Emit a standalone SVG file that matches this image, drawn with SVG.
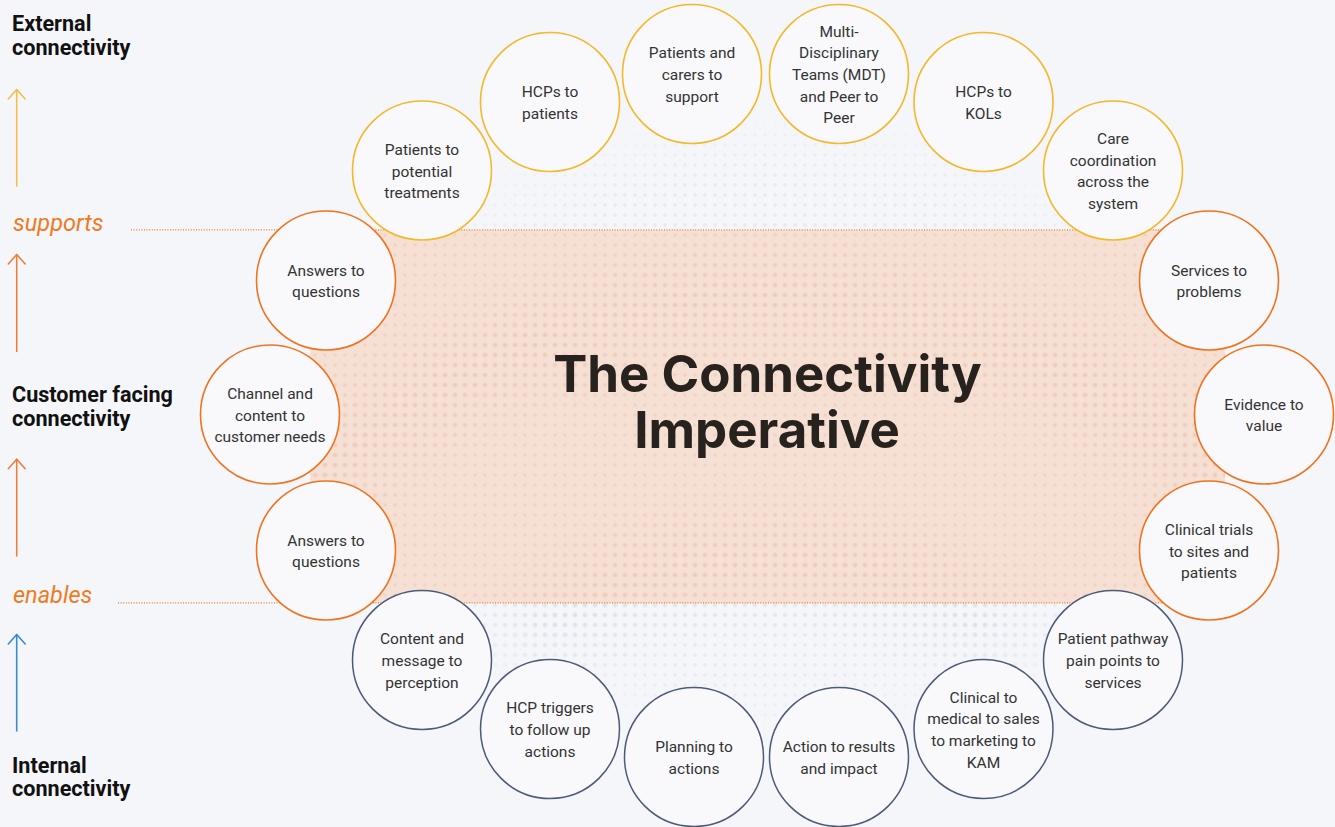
<svg xmlns="http://www.w3.org/2000/svg" width="1335" height="827" viewBox="0 0 1335 827">
<style>
.ext{fill:#F9F9FB;stroke:#F5B829;stroke-width:1.6}
.cus{fill:#F9F9FB;stroke:#F0731F;stroke-width:1.6}
.int{fill:#F9F9FB;stroke:#4C5B7A;stroke-width:1.5}
.lbl{font-family:Roboto,"Liberation Sans",sans-serif;font-size:15.5px;fill:#333333;text-anchor:middle}
.head{font-family:Roboto,"Liberation Sans",sans-serif;font-size:21.6px;font-weight:700;fill:#111111}
.verb{font-family:Roboto,"Liberation Sans",sans-serif;font-size:23.5px;font-style:italic;fill:#F07A22}
.title{font-family:Inter,"Liberation Sans",sans-serif;font-size:51px;font-weight:700;fill:#28221F;text-anchor:middle}
.dotline{stroke:#F07A22;stroke-width:1.2;stroke-dasharray:1 1.6;fill:none}
.arr{fill:none;stroke-width:1.6;stroke-linecap:round;stroke-linejoin:round}
</style>
<defs>
<pattern id="pS" width="10" height="10" patternUnits="userSpaceOnUse"><circle cx="5" cy="5" r="1.8" fill="#7884A8" fill-opacity="0.11"/></pattern>
<pattern id="pL" width="10" height="10" patternUnits="userSpaceOnUse"><circle cx="5" cy="5" r="2.8" fill="#7884A8" fill-opacity="0.09"/></pattern>
<pattern id="bS" width="10" height="10" patternUnits="userSpaceOnUse"><circle cx="5" cy="5" r="1.8" fill="#C8907A" fill-opacity="0.14"/></pattern>
<pattern id="bL" width="10" height="10" patternUnits="userSpaceOnUse"><circle cx="5" cy="5" r="2.8" fill="#C8907A" fill-opacity="0.11"/></pattern>
<radialGradient id="gFade" gradientUnits="userSpaceOnUse" cx="767" cy="425" r="470" gradientTransform="translate(767 425) scale(1 0.68) translate(-767 -425)">
<stop offset="0" stop-color="#fff"/><stop offset="0.78" stop-color="#fff"/><stop offset="1" stop-color="#000"/>
</radialGradient>
<radialGradient id="gRing" gradientUnits="userSpaceOnUse" cx="767" cy="950" r="130" spreadMethod="reflect">
<stop offset="0" stop-color="#000"/><stop offset="0.4" stop-color="#000"/><stop offset="1" stop-color="#fff"/>
</radialGradient>
<mask id="mFade"><rect width="1335" height="827" fill="url(#gFade)"/></mask>
<mask id="mRing"><rect width="1335" height="827" fill="url(#gRing)"/></mask>
<clipPath id="cBand"><rect x="310" y="230" width="915" height="373"/></clipPath>
</defs>

<rect width="1335" height="827" fill="#F5F6FA"/>

<g id="halftone">
<g mask="url(#mFade)">
<rect width="1335" height="827" fill="url(#pS)"/>
<rect width="1335" height="827" fill="url(#pL)" mask="url(#mRing)"/>
</g>
<rect id="band" x="310" y="230" width="915" height="373" fill="#F6DFD3"/>
<g clip-path="url(#cBand)">
<rect width="1335" height="827" fill="url(#bS)"/>
<rect width="1335" height="827" fill="url(#bL)" mask="url(#mRing)"/>
</g>
</g>

<g id="connectors">
<line class="dotline" x1="131" y1="229.8" x2="1225" y2="229.8"/>
<line class="dotline" x1="118" y1="602.8" x2="1225" y2="602.8"/>
<g class="arr" stroke="#F4BD4C"><line x1="16.7" y1="89.5" x2="16.7" y2="186"/><polyline points="8.3,99 16.7,89.5 25.2,99"/></g>
<g class="arr" stroke="#EC7E3E"><line x1="16.7" y1="254.5" x2="16.7" y2="351.5"/><polyline points="8.3,264 16.7,254.5 25.2,264"/></g>
<g class="arr" stroke="#EC7E3E"><line x1="16.7" y1="459.2" x2="16.7" y2="556"/><polyline points="8.3,468.7 16.7,459.2 25.2,468.7"/></g>
<g class="arr" stroke="#3A8CCB"><line x1="16.7" y1="634.5" x2="16.7" y2="731"/><polyline points="8.3,644 16.7,634.5 25.2,644"/></g>
</g>

<g id="side-labels">
<text class="head" x="12" y="31">External</text>
<text class="head" x="12" y="54.5">connectivity</text>
<text class="verb" x="13" y="230.5">supports</text>
<text class="head" x="12" y="402.3">Customer facing</text>
<text class="head" x="12" y="425.5">connectivity</text>
<text class="verb" x="13" y="603">enables</text>
<text class="head" x="12" y="772.7">Internal</text>
<text class="head" x="12" y="796">connectivity</text>
</g>

<g id="title">
<text class="title" x="767.5" y="391.7">The Connectivity</text>
<text class="title" x="767" y="448.3">Imperative</text>
</g>

<g id="n-ext-1"><circle class="ext" cx="422" cy="170.5" r="69.5"/><text class="lbl"><tspan x="422" y="155">Patients to</tspan><tspan x="422" y="176.7">potential</tspan><tspan x="422" y="198.4">treatments</tspan></text></g>
<g id="n-ext-2"><circle class="ext" cx="550" cy="102" r="69.5"/><text class="lbl"><tspan x="550" y="97.2">HCPs to</tspan><tspan x="550" y="118.9">patients</tspan></text></g>
<g id="n-ext-3"><circle class="ext" cx="692" cy="74" r="69.5"/><text class="lbl"><tspan x="692" y="58.3">Patients and</tspan><tspan x="692" y="80">carers to</tspan><tspan x="692" y="101.7">support</tspan></text></g>
<g id="n-ext-4"><circle class="ext" cx="839" cy="74" r="69.5"/><text class="lbl"><tspan x="839" y="36.6">Multi-</tspan><tspan x="839" y="58.3">Disciplinary</tspan><tspan x="839" y="80">Teams (MDT)</tspan><tspan x="839" y="101.7">and Peer to</tspan><tspan x="839" y="123.4">Peer</tspan></text></g>
<g id="n-ext-5"><circle class="ext" cx="983.5" cy="102" r="69.5"/><text class="lbl"><tspan x="983.5" y="97.2">HCPs to</tspan><tspan x="983.5" y="118.9">KOLs</tspan></text></g>
<g id="n-ext-6"><circle class="ext" cx="1113" cy="170.5" r="69.5"/><text class="lbl"><tspan x="1113" y="144">Care</tspan><tspan x="1113" y="165.7">coordination</tspan><tspan x="1113" y="187.4">across the</tspan><tspan x="1113" y="209.1">system</tspan></text></g>

<g id="n-cus-1"><circle class="cus" cx="1209" cy="280.5" r="69.5"/><text class="lbl"><tspan x="1209" y="275.7">Services to</tspan><tspan x="1209" y="297.4">problems</tspan></text></g>
<g id="n-cus-2"><circle class="cus" cx="1264" cy="414.5" r="69.5"/><text class="lbl"><tspan x="1264" y="409.7">Evidence to</tspan><tspan x="1264" y="431.4">value</tspan></text></g>
<g id="n-cus-3"><circle class="cus" cx="1209" cy="550.5" r="69.5"/><text class="lbl"><tspan x="1209" y="534.8">Clinical trials</tspan><tspan x="1209" y="556.5">to sites and</tspan><tspan x="1209" y="578.2">patients</tspan></text></g>
<g id="n-cus-4"><circle class="cus" cx="326" cy="280.5" r="69.5"/><text class="lbl"><tspan x="326" y="275.7">Answers to</tspan><tspan x="326" y="297.4">questions</tspan></text></g>
<g id="n-cus-5"><circle class="cus" cx="270" cy="414.5" r="69.5"/><text class="lbl"><tspan x="270" y="398.8">Channel and</tspan><tspan x="270" y="420.5">content to</tspan><tspan x="270" y="442.2">customer needs</tspan></text></g>
<g id="n-cus-6"><circle class="cus" cx="326" cy="550.5" r="69.5"/><text class="lbl"><tspan x="326" y="545.7">Answers to</tspan><tspan x="326" y="567.4">questions</tspan></text></g>

<g id="n-int-1"><circle class="int" cx="422" cy="660" r="69.5"/><text class="lbl"><tspan x="422" y="644.3">Content and</tspan><tspan x="422" y="666">message to</tspan><tspan x="422" y="687.7">perception</tspan></text></g>
<g id="n-int-2"><circle class="int" cx="550" cy="729" r="69.5"/><text class="lbl"><tspan x="550" y="713.3">HCP triggers</tspan><tspan x="550" y="735">to follow up</tspan><tspan x="550" y="756.7">actions</tspan></text></g>
<g id="n-int-3"><circle class="int" cx="694" cy="757" r="69.5"/><text class="lbl"><tspan x="694" y="752.2">Planning to</tspan><tspan x="694" y="773.9">actions</tspan></text></g>
<g id="n-int-4"><circle class="int" cx="839" cy="757" r="69.5"/><text class="lbl"><tspan x="839" y="752.2">Action to results</tspan><tspan x="839" y="773.9">and impact</tspan></text></g>
<g id="n-int-5"><circle class="int" cx="983.5" cy="729" r="69.5"/><text class="lbl"><tspan x="983.5" y="702.5">Clinical to</tspan><tspan x="983.5" y="724.2">medical to sales</tspan><tspan x="983.5" y="745.9">to marketing to</tspan><tspan x="983.5" y="767.6">KAM</tspan></text></g>
<g id="n-int-6"><circle class="int" cx="1113" cy="660" r="69.5"/><text class="lbl"><tspan x="1113" y="644.3">Patient pathway</tspan><tspan x="1113" y="666">pain points to</tspan><tspan x="1113" y="687.7">services</tspan></text></g>
</svg>
